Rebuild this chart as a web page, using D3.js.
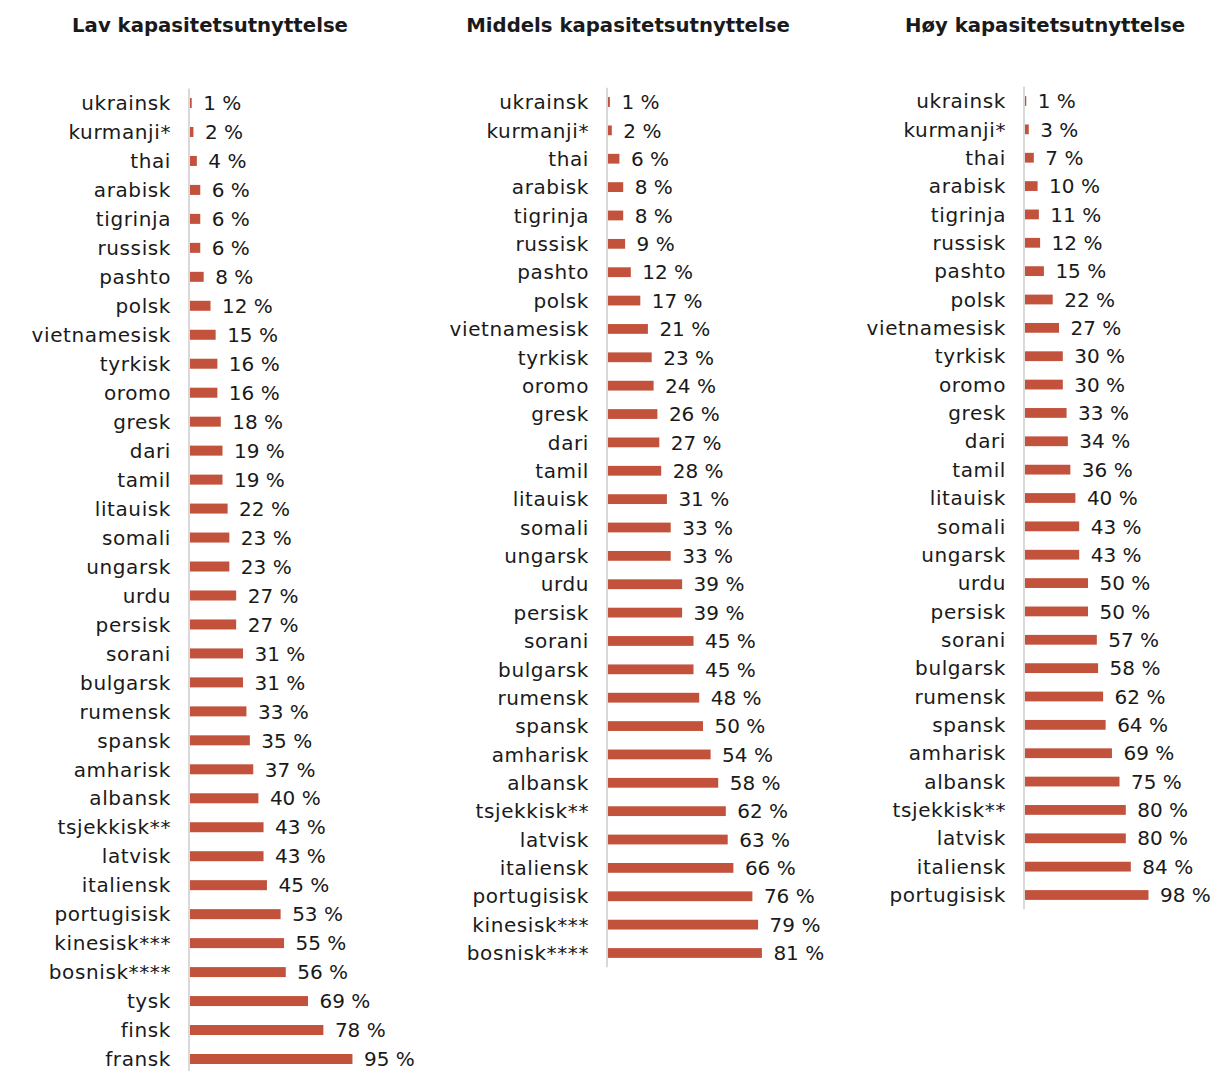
<!DOCTYPE html>
<html><head><meta charset="utf-8">
<script src="https://cdn.jsdelivr.net/npm/d3@7"></script>
<style>
body{margin:0;background:#fff;}
svg text{font-family:"DejaVu Sans",sans-serif;fill:#1a1a1a;}
</style></head>
<body><svg id="c" width="1216" height="1071"></svg>
<script>
const titles = ["Lav kapasitetsutnyttelse","Middels kapasitetsutnyttelse","Høy kapasitetsutnyttelse"];
const categoriesLav = ["ukrainsk","kurmanji*","thai","arabisk","tigrinja","russisk","pashto","polsk","vietnamesisk","tyrkisk","oromo","gresk","dari","tamil","litauisk","somali","ungarsk","urdu","persisk","sorani","bulgarsk","rumensk","spansk","amharisk","albansk","tsjekkisk**","latvisk","italiensk","portugisisk","kinesisk***","bosnisk****","tysk","finsk","fransk"];
const valuesLav = [1,2,4,6,6,6,8,12,15,16,16,18,19,19,22,23,23,27,27,31,31,33,35,37,40,43,43,45,53,55,56,69,78,95];
const categoriesMiddels = ["ukrainsk","kurmanji*","thai","arabisk","tigrinja","russisk","pashto","polsk","vietnamesisk","tyrkisk","oromo","gresk","dari","tamil","litauisk","somali","ungarsk","urdu","persisk","sorani","bulgarsk","rumensk","spansk","amharisk","albansk","tsjekkisk**","latvisk","italiensk","portugisisk","kinesisk***","bosnisk****"];
const valuesMiddels = [1,2,6,8,8,9,12,17,21,23,24,26,27,28,31,33,33,39,39,45,45,48,50,54,58,62,63,66,76,79,81];
const categoriesHoy = ["ukrainsk","kurmanji*","thai","arabisk","tigrinja","russisk","pashto","polsk","vietnamesisk","tyrkisk","oromo","gresk","dari","tamil","litauisk","somali","ungarsk","urdu","persisk","sorani","bulgarsk","rumensk","spansk","amharisk","albansk","tsjekkisk**","latvisk","italiensk","portugisisk"];
const valuesHoy = [1,3,7,10,11,12,15,22,27,30,30,33,34,36,40,43,43,50,50,57,58,62,64,69,75,80,80,84,98];

const svg = d3.select("#c");
const panels = [
  {title:titles[0], cats:categoriesLav, vals:valuesLav, axisX:190, titleX:210, y0:103, y1:1059, w100:171},
  {title:titles[1], cats:categoriesMiddels, vals:valuesMiddels, axisX:608, titleX:628, y0:102, y1:953, w100:190},
  {title:titles[2], cats:categoriesHoy, vals:valuesHoy, axisX:1025, titleX:1045, y0:101, y1:895, w100:126}
];
panels.forEach(p=>{
  const g = svg.append("g");
  const step = (p.y1-p.y0)/(p.cats.length-1);
  const y = d3.scaleBand().domain(p.cats).range([p.y0-step/2, p.y1+step/2]).paddingInner(0.655).paddingOuter(0.3275);
  const x = d3.scaleLinear().domain([0,100]).range([p.axisX, p.axisX+p.w100]);
  g.append("text").attr("x",p.titleX).attr("y",32).attr("text-anchor","middle")
    .style("font-weight","bold").style("font-size","19.7px").text(p.title);
  g.selectAll("rect").data(p.vals).join("rect")
    .attr("x",x(0)).attr("y",(d,i)=>y(p.cats[i]))
    .attr("width",d=>x(d)-x(0)).attr("height",y.bandwidth())
    .attr("fill","#c2523c");
  g.append("line").attr("x1",p.axisX-1).attr("x2",p.axisX-1)
    .attr("y1",p.y0-step/2).attr("y2",Math.min(1071,p.y1+step/2))
    .attr("stroke","#d9d9d9").attr("stroke-width",2);
  g.selectAll("text.cat").data(p.cats).join("text").attr("class","cat")
    .attr("x",p.axisX-19).attr("y",(d)=>y(d)+y.bandwidth()/2).attr("dy","0.36em")
    .attr("text-anchor","end").style("font-size","20px").style("letter-spacing","0.6px").text(d=>d);
  g.selectAll("text.val").data(p.vals).join("text").attr("class","val")
    .attr("x",d=>x(d)+11.5).attr("y",(d,i)=>y(p.cats[i])+y.bandwidth()/2).attr("dy","0.36em")
    .style("font-size","20px").text(d=>d+" %");
});
</script></body></html>
